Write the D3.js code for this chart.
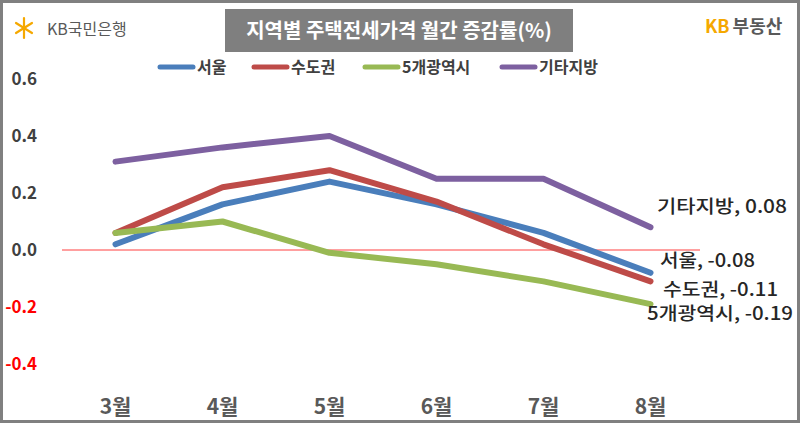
<!DOCTYPE html>
<html><head><meta charset="utf-8">
<script src="https://cdn.jsdelivr.net/npm/d3@7"></script>
<style>body{margin:0;background:#fff}svg{display:block}</style>
</head><body>
<script>
const months = ["3월","4월","5월","6월","7월","8월"];
const seoul = [0.02,0.16,0.24,0.16,0.06,-0.08];
const capital = [0.06,0.22,0.28,0.17,0.02,-0.11];
const metro5 = [0.06,0.10,-0.01,-0.05,-0.11,-0.19];
const others = [0.31,0.36,0.40,0.25,0.25,0.08];
const seriesNames = ["서울","수도권","5개광역시","기타지방"];
const seriesColors = ["#4A7EBB","#BE4B48","#98B954","#7D60A0"];
const yTicks = [0.6,0.4,0.2,0.0,-0.2,-0.4];
const title = "지역별 주택전세가격 월간 증감률(%)";

const W=800,H=423;
const svg=d3.select("body").append("svg").attr("width",W).attr("height",H);
const FONT="'Noto Sans CJK KR','Noto Sans',sans-serif";

svg.append("rect").attr("x",1.5).attr("y",1.5).attr("width",W-3).attr("height",H-3)
  .attr("fill","#fff").attr("stroke","#808080").attr("stroke-width",3);

const x=d3.scaleBand().domain(months).range([62,704]).padding(0);
const cx=m=>x(m)+x.bandwidth()/2;
const y=d3.scaleLinear().domain([-0.4,0.6]).range([364,79]);

// y tick labels
svg.append("g").selectAll("text").data(yTicks).join("text")
  .attr("x",37).attr("y",d=>y(d)).attr("dy","0.36em").attr("text-anchor","end")
  .attr("font-family",FONT).attr("font-weight","bold").attr("font-size",17)
  .attr("fill",d=>d<0?"#FF0000":"#404040").text(d=>d.toFixed(1));

// zero line
svg.append("line").attr("x1",62).attr("x2",700).attr("y1",y(0)).attr("y2",y(0))
  .attr("stroke","#FF4040").attr("stroke-width",1);

// x labels
svg.append("g").selectAll("text").data(months).join("text")
  .attr("x",d=>cx(d)).attr("y",414).attr("text-anchor","middle")
  .attr("font-family",FONT).attr("font-weight","bold").attr("font-size",21)
  .attr("fill","#595959").text(d=>d);

const data=[seoul,capital,metro5,others];
const line=d3.line().x((d,i)=>cx(months[i])).y(d=>y(d));
[0,1,2,3].forEach(k=>{
  svg.append("path").attr("d",line(data[k])).attr("fill","none")
    .attr("stroke",seriesColors[k]).attr("stroke-width",6)
    .attr("stroke-linecap","round").attr("stroke-linejoin","round");
});

// end labels
const endLabels=[
  {k:3,x:657,y:207,w:130},
  {k:0,x:660,y:261,w:95},
  {k:1,x:663,y:290,w:115},
  {k:2,x:647,y:314,w:146}
];
svg.append("g").selectAll("text").data(endLabels).join("text")
  .attr("x",d=>d.x).attr("y",d=>d.y).attr("dy","0.36em")
  .attr("font-family",FONT).attr("font-weight",500).attr("font-size",18)
  .attr("textLength",d=>d.w).attr("lengthAdjust","spacingAndGlyphs")
  .attr("fill","#262626")
  .text(d=>seriesNames[d.k]+", "+data[d.k][5].toFixed(2));

// legend
const legendX=[158,252,363,500];
seriesNames.forEach((n,k)=>{
  svg.append("line").attr("x1",legendX[k]+2).attr("x2",legendX[k]+35).attr("y1",67).attr("y2",67)
    .attr("stroke",seriesColors[k]).attr("stroke-width",5).attr("stroke-linecap","round");
  svg.append("text").attr("x",legendX[k]+39).attr("y",67).attr("dy","0.36em")
    .attr("font-family",FONT).attr("font-weight","bold").attr("font-size",16)
    .attr("fill","#404040").text(n);
});

// title
svg.append("rect").attr("x",225).attr("y",9).attr("width",348).attr("height",43).attr("fill","#7F7F7F");
svg.append("text").attr("x",399).attr("y",31).attr("dy","0.36em").attr("text-anchor","middle")
  .attr("font-family",FONT).attr("font-weight","bold").attr("font-size",20)
  .attr("fill","#fff").text(title);

// KB국민은행 logo
const lg=svg.append("g").attr("stroke","#F5A800").attr("stroke-width",2.2).attr("stroke-linecap","round").attr("fill","none");
[[24,18,24,38],[16,23,32,33],[16,33,32,23]].forEach(a=>lg.append("line").attr("x1",a[0]).attr("y1",a[1]).attr("x2",a[2]).attr("y2",a[3]));
svg.append("text").attr("x",47).attr("y",29).attr("dy","0.36em")
  .attr("font-family",FONT).attr("font-size",16).attr("fill","#595959").text("KB국민은행");

// KB부동산
const kb=svg.append("text").attr("x",705).attr("y",27).attr("dy","0.36em")
  .attr("font-family",FONT).attr("font-weight","bold").attr("font-size",18);
kb.append("tspan").attr("fill","#F5A800").text("KB");
kb.append("tspan").attr("fill","#595959").attr("dx",3).text("부동산");
</script>
</body></html>
